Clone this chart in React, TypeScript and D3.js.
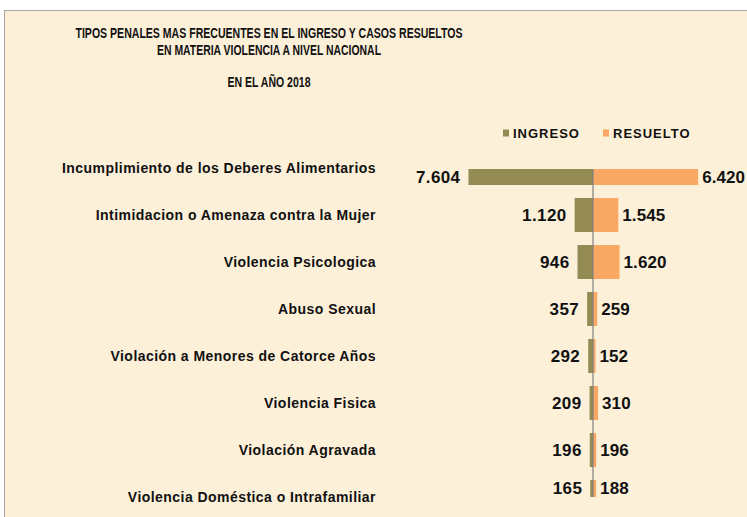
import * as d3 from 'd3';
import React, { useEffect, useRef } from 'react';

const categories = [
  "Incumplimiento de los Deberes Alimentarios",
  "Intimidacion o Amenaza contra la Mujer",
  "Violencia Psicologica",
  "Abuso Sexual",
  "Violación a Menores de Catorce Años",
  "Violencia Fisica",
  "Violación Agravada",
  "Violencia Doméstica o Intrafamiliar",
];
const ingreso = [7604, 1120, 946, 357, 292, 209, 196, 165];
const resuelto = [6420, 1545, 1620, 259, 152, 310, 196, 188];
const seriesNames = ["INGRESO", "RESUELTO"];
const titleLines = [
  "TIPOS PENALES MAS FRECUENTES EN EL INGRESO Y CASOS RESUELTOS",
  "EN MATERIA VIOLENCIA A NIVEL NACIONAL",
];
const subtitle = "EN EL AÑO 2018";

const W = 747;
const H = 517;
const colors = ["#948A54", "#F8A862"];
const font = "Arial, 'Liberation Sans', sans-serif";
const fmt = (v: number) => d3.format(",")(v).replace(/,/g, ".");

export default function App() {
  const svgRef = useRef<SVGSVGElement>(null);

  useEffect(() => {
    const svg = d3.select(svgRef.current);
    svg.selectAll("*").remove();

    // background + frame
    svg.append("rect").attr("width", W).attr("height", H).attr("fill", "#FFFFFF");
    svg.append("rect")
      .attr("x", 4.5).attr("y", 10.5)
      .attr("width", W + 10).attr("height", H + 10)
      .attr("fill", "#FDF0D9")
      .attr("stroke", "#A6A6A6");

    // title (condensed look, squeezed to the reference width)
    const cx = 269;
    const titleWidths = [387, 224];
    titleLines.forEach((t, i) => {
      svg.append("text")
        .attr("x", cx).attr("y", 38 + i * 17)
        .attr("text-anchor", "middle")
        .attr("font-family", font).attr("font-weight", "bold")
        .attr("font-size", 14)
        .attr("textLength", titleWidths[i])
        .attr("lengthAdjust", "spacingAndGlyphs")
        .attr("fill", "#111")
        .text(t);
    });
    svg.append("text")
      .attr("x", cx).attr("y", 87)
      .attr("text-anchor", "middle")
      .attr("font-family", font).attr("font-weight", "bold")
      .attr("font-size", 14)
      .attr("textLength", 83)
      .attr("lengthAdjust", "spacingAndGlyphs")
      .attr("fill", "#111")
      .text(subtitle);

    // legend
    const legendX = [503, 603];
    seriesNames.forEach((n, i) => {
      const g = svg.append("g").attr("transform", `translate(${legendX[i]}, 133)`);
      g.append("rect").attr("x", 0).attr("y", -3.5).attr("width", 6).attr("height", 7).attr("fill", colors[i]);
      g.append("text")
        .attr("x", 10).attr("y", 4.5)
        .attr("font-family", font).attr("font-weight", "bold")
        .attr("font-size", 13).attr("letter-spacing", 1)
        .attr("fill", "#111")
        .text(n);
    });

    // scales
    const plotTop = 169;
    const plotBottom = 497;
    const y = d3.scalePoint<string>().domain(categories).range([168, 497]);
    const barH = 34;
    const x = d3.scaleLinear().domain([-8000, 8000]).range([462, 724]);

    const defs = svg.append("defs");
    defs.append("clipPath").attr("id", "plotClip")
      .append("rect")
      .attr("x", 0).attr("y", plotTop)
      .attr("width", W).attr("height", plotBottom - plotTop);

    const visMid = (c: string) => {
      const top = Math.max(y(c)! - barH / 2, plotTop);
      const bot = Math.min(y(c)! + barH / 2, plotBottom);
      return (top + bot) / 2;
    };

    const bars = svg.append("g").attr("clip-path", "url(#plotClip)");
    bars.selectAll("rect.ing")
      .data(categories)
      .join("rect")
      .attr("class", "ing")
      .attr("x", (d, i) => x(-ingreso[i]))
      .attr("y", d => y(d)! - barH / 2)
      .attr("width", (d, i) => x(0) - x(-ingreso[i]))
      .attr("height", barH)
      .attr("fill", colors[0]);
    bars.selectAll("rect.res")
      .data(categories)
      .join("rect")
      .attr("class", "res")
      .attr("x", x(0))
      .attr("y", d => y(d)! - barH / 2)
      .attr("width", (d, i) => x(resuelto[i]) - x(0))
      .attr("height", barH)
      .attr("fill", colors[1]);

    // center axis
    svg.append("line")
      .attr("x1", x(0)).attr("x2", x(0))
      .attr("y1", plotTop).attr("y2", plotBottom)
      .attr("stroke", "#808080").attr("stroke-width", 1.2);

    // category labels
    svg.append("g").selectAll("text")
      .data(categories)
      .join("text")
      .attr("x", 376)
      .attr("y", d => y(d)!)
      .attr("dy", "0.35em")
      .attr("text-anchor", "end")
      .attr("font-family", font).attr("font-weight", "bold")
      .attr("font-size", 14).attr("letter-spacing", 0.45)
      .attr("fill", "#111")
      .text(d => d);

    // value labels
    const vals = svg.append("g")
      .attr("font-family", font).attr("font-weight", "bold")
      .attr("font-size", 17).attr("fill", "#111");
    vals.selectAll("text.ing")
      .data(categories)
      .join("text")
      .attr("class", "ing")
      .attr("x", (d, i) => x(-ingreso[i]) - 8)
      .attr("y", d => visMid(d))
      .attr("dy", "0.35em")
      .attr("text-anchor", "end")
      .attr("letter-spacing", 0.4)
      .text((d, i) => fmt(ingreso[i]));
    vals.selectAll("text.res")
      .data(categories)
      .join("text")
      .attr("class", "res")
      .attr("x", (d, i) => x(resuelto[i]) + 4)
      .attr("y", d => visMid(d))
      .attr("dy", "0.35em")
      .attr("text-anchor", "start")
      .attr("letter-spacing", 0.1)
      .text((d, i) => fmt(resuelto[i]));
  }, []);

  return (
    <svg ref={svgRef} width={W} height={H}
      style={{ position: 'absolute', left: 0, top: 0, display: 'block' }} />
  );
}
